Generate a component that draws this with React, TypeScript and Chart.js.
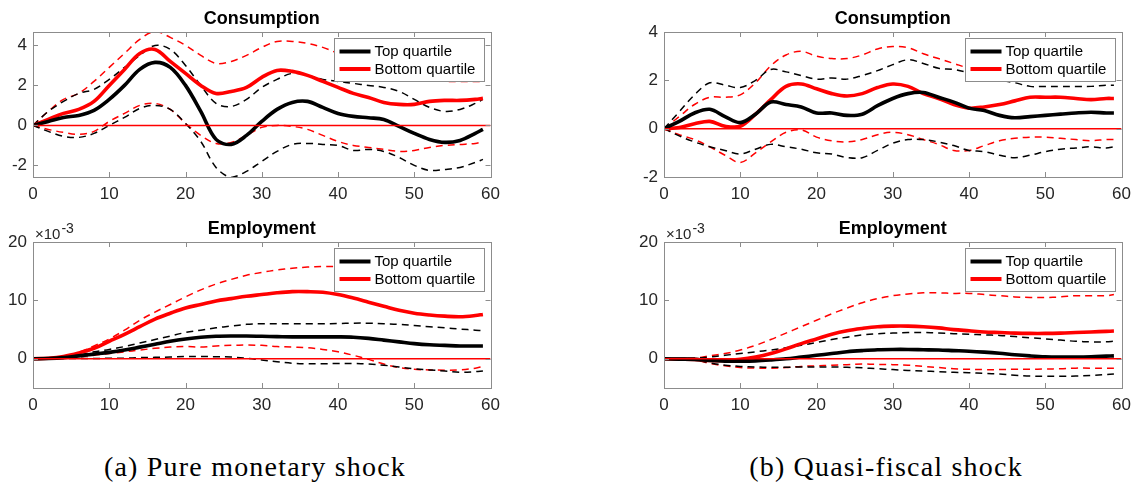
import React, { useEffect, useRef } from "react";
import { Chart, registerables } from "chart.js";

Chart.register(...registerables);

// ---------- data ----------
const HORIZON = [0, 2, 4, 6, 8, 10, 12, 14, 16, 18, 20, 22, 24, 26, 28, 30, 32, 34, 36, 38, 40, 42, 44, 46, 48, 50, 52, 54, 56, 58, 59];
const X_TICKS_STEP = 10;
const SERIES_LABELS = ["Top quartile", "Bottom quartile"];
const CAPTIONS = ["(a) Pure monetary shock", "(b) Quasi-fiscal shock"];
const TITLES = ["Consumption", "Employment"];
const EXPONENT_LABEL = ["×10", "-3"];

// (a) Pure monetary shock — Consumption
const monConsTop = [0, 0.2, 0.4, 0.5, 0.75, 1.3, 2.0, 2.8, 3.15, 2.9, 2.0, 0.7, -0.7, -0.95, -0.5, 0.2, 0.8, 1.15, 1.2, 0.9, 0.6, 0.45, 0.38, 0.3, -0.05, -0.4, -0.7, -0.85, -0.75, -0.4, -0.2];
const monConsBot = [0, 0.3, 0.6, 0.8, 1.2, 2.0, 2.8, 3.6, 3.8, 3.2, 2.6, 2.0, 1.6, 1.7, 1.9, 2.4, 2.75, 2.7, 2.5, 2.2, 1.9, 1.6, 1.4, 1.15, 1.05, 1.05, 1.2, 1.25, 1.25, 1.3, 1.35];
const monConsTopHi = [0, 0.7, 1.2, 1.6, 1.8, 2.3, 2.9, 3.5, 4.0, 3.8, 3.0, 2.0, 1.1, 0.95, 1.3, 1.9, 2.3, 2.6, 2.5, 2.3, 2.2, 2.1, 2.0, 1.9, 1.7, 1.3, 0.9, 0.7, 0.8, 1.1, 1.3];
const monConsBotHi = [0, 0.7, 1.3, 1.6, 2.2, 2.9, 3.6, 4.3, 4.7, 4.4, 4.0, 3.5, 3.1, 3.2, 3.5, 3.9, 4.2, 4.2, 4.1, 3.9, 3.6, 3.3, 3.0, 2.8, 2.6, 2.4, 2.3, 2.2, 2.2, 2.2, 2.2];
const monConsTopLo = [0, -0.3, -0.55, -0.6, -0.4, 0.0, 0.4, 0.85, 1.0, 0.8, 0.1, -0.8, -2.1, -2.6, -2.3, -1.8, -1.3, -0.95, -0.9, -0.95, -1.0, -1.25, -1.2, -1.3, -1.6, -2.0, -2.25, -2.2, -2.1, -1.85, -1.7];
const monConsBotLo = [0, -0.2, -0.35, -0.45, -0.3, 0.2, 0.6, 1.0, 1.1, 0.8, 0.1, -0.5, -0.9, -0.85, -0.5, -0.1, 0.0, -0.05, -0.2, -0.5, -0.8, -1.0, -1.1, -1.2, -1.3, -1.25, -1.1, -1.0, -0.95, -0.9, -0.8];

// (b) Quasi-fiscal shock — Consumption
const qfConsTop = [0, 0.3, 0.65, 0.8, 0.5, 0.25, 0.6, 1.1, 1.0, 0.9, 0.65, 0.65, 0.55, 0.6, 0.95, 1.25, 1.45, 1.5, 1.3, 1.1, 0.85, 0.75, 0.55, 0.45, 0.5, 0.55, 0.6, 0.65, 0.68, 0.65, 0.65];
const qfConsBot = [0, 0.05, 0.2, 0.3, 0.1, 0.1, 0.6, 1.2, 1.75, 1.85, 1.65, 1.45, 1.35, 1.45, 1.7, 1.85, 1.75, 1.45, 1.25, 1.0, 0.85, 0.9, 1.0, 1.15, 1.3, 1.3, 1.3, 1.25, 1.2, 1.25, 1.25];
const qfConsTopHi = [0, 0.7, 1.4, 1.9, 1.8, 1.7, 2.0, 2.45, 2.35, 2.2, 2.05, 2.1, 2.05, 2.2, 2.4, 2.65, 2.85, 2.7, 2.5, 2.45, 2.3, 2.1, 2.0, 1.9, 1.75, 1.75, 1.75, 1.75, 1.75, 1.8, 1.8];
const qfConsBotHi = [0, 0.5, 1.0, 1.3, 1.3, 1.4, 1.9, 2.6, 3.05, 3.2, 3.0, 2.9, 2.9, 3.05, 3.3, 3.4, 3.35, 3.1, 2.9, 2.7, 2.5, 2.4, 2.3, 2.2, 2.1, 2.1, 2.1, 2.1, 2.1, 2.1, 2.1];
const qfConsTopLo = [0, -0.3, -0.55, -0.75, -0.9, -1.05, -0.85, -0.65, -0.75, -0.85, -1.0, -1.05, -1.2, -1.2, -0.9, -0.6, -0.45, -0.45, -0.55, -0.7, -0.9, -0.95, -1.1, -1.2, -1.1, -0.95, -0.85, -0.8, -0.75, -0.8, -0.75];
const qfConsBotLo = [0, -0.25, -0.45, -0.75, -1.1, -1.4, -1.0, -0.55, -0.15, -0.05, -0.35, -0.5, -0.55, -0.45, -0.25, -0.15, -0.25, -0.45, -0.65, -0.9, -0.9, -0.7, -0.5, -0.4, -0.35, -0.35, -0.4, -0.45, -0.5, -0.45, -0.45];

// (a) Pure monetary shock — Employment (units of 10^-3)
const monEmpTop = [0, 0.05, 0.2, 0.5, 0.8, 1.1, 1.5, 2.0, 2.5, 3.0, 3.4, 3.7, 3.85, 3.9, 3.9, 3.85, 3.8, 3.75, 3.75, 3.75, 3.75, 3.7, 3.5, 3.2, 2.9, 2.6, 2.4, 2.3, 2.2, 2.2, 2.2];
const monEmpBot = [0, 0.1, 0.4, 1.0, 1.8, 3.0, 4.2, 5.5, 6.8, 7.8, 8.7, 9.3, 9.9, 10.3, 10.7, 11.0, 11.3, 11.5, 11.5, 11.4, 11.0, 10.4, 9.7, 9.0, 8.3, 7.8, 7.5, 7.3, 7.2, 7.4, 7.6];
const monEmpTopHi = [0, 0.0, 0.2, 0.6, 1.2, 1.6, 2.1, 2.7, 3.3, 3.9, 4.5, 4.9, 5.3, 5.6, 5.9, 6.0, 6.0, 6.0, 6.0, 6.0, 6.05, 6.1, 6.1, 6.0, 5.9, 5.7, 5.5, 5.3, 5.1, 4.9, 4.8];
const monEmpBotHi = [0, 0.1, 0.4, 1.1, 2.2, 3.4, 4.9, 6.6, 8.0, 9.3, 10.6, 11.8, 12.8, 13.6, 14.3, 14.8, 15.2, 15.5, 15.7, 15.8, 15.8, 15.7, 15.5, 15.2, 14.8, 14.4, 14.0, 13.8, 13.7, 13.8, 13.9];
const monEmpTopLo = [0, 0.0, 0.05, 0.05, 0.05, 0.1, 0.1, 0.2, 0.25, 0.3, 0.4, 0.4, 0.35, 0.3, 0.1, -0.2, -0.5, -0.75, -0.85, -0.85, -0.8, -0.8, -0.9, -1.1, -1.4, -1.7, -1.9, -2.1, -2.3, -2.2, -2.1];
const monEmpBotLo = [0, 0.0, 0.15, 0.3, 0.6, 0.9, 1.2, 1.5, 1.8, 2.0, 2.1, 2.0, 2.2, 2.3, 2.35, 2.3, 2.1, 2.0, 1.9, 1.6, 1.2, 0.6, -0.1, -0.9, -1.5, -1.8, -1.9, -1.95, -1.9, -1.6, -1.3];

// (b) Quasi-fiscal shock — Employment (units of 10^-3)
const qfEmpTop = [0, -0.05, -0.1, -0.3, -0.4, -0.4, -0.35, -0.2, 0.0, 0.3, 0.6, 0.9, 1.2, 1.4, 1.55, 1.6, 1.6, 1.55, 1.5, 1.4, 1.3, 1.15, 0.95, 0.7, 0.5, 0.35, 0.3, 0.3, 0.35, 0.45, 0.5];
const qfEmpBot = [0, -0.05, -0.1, -0.3, -0.3, -0.1, 0.3, 0.9, 1.7, 2.6, 3.4, 4.2, 4.8, 5.2, 5.5, 5.6, 5.6, 5.5, 5.3, 5.0, 4.8, 4.6, 4.5, 4.4, 4.35, 4.35, 4.4, 4.5, 4.6, 4.7, 4.75];
const qfEmpTopHi = [0, 0.0, 0.1, 0.3, 0.6, 0.9, 1.2, 1.5, 1.9, 2.3, 2.8, 3.3, 3.7, 4.1, 4.3, 4.4, 4.5, 4.5, 4.4, 4.3, 4.2, 4.1, 4.0, 3.8, 3.6, 3.4, 3.2, 3.0, 2.9, 2.9, 3.0];
const qfEmpBotHi = [0, 0.0, 0.1, 0.5, 0.9, 1.5, 2.3, 3.3, 4.4, 5.5, 6.6, 7.7, 8.7, 9.6, 10.3, 10.8, 11.1, 11.3, 11.3, 11.2, 11.2, 11.0, 10.8, 10.6, 10.5, 10.5, 10.6, 10.8, 10.8, 10.8, 11.0];
const qfEmpTopLo = [0, -0.05, -0.2, -0.7, -1.1, -1.3, -1.4, -1.45, -1.45, -1.4, -1.4, -1.4, -1.45, -1.55, -1.7, -1.85, -2.0, -2.1, -2.2, -2.3, -2.4, -2.5, -2.6, -2.8, -2.95, -3.0, -3.0, -2.95, -2.85, -2.7, -2.6];
const qfEmpBotLo = [0, -0.05, -0.2, -0.8, -1.2, -1.5, -1.6, -1.6, -1.5, -1.3, -1.2, -1.1, -1.0, -0.9, -0.95, -1.0, -1.1, -1.3, -1.5, -1.7, -1.8, -1.85, -1.85, -1.8, -1.8, -1.75, -1.7, -1.6, -1.6, -1.6, -1.6];

// y-axis ranges
const CONS_RANGE_A = [-2.58, 4.67];
const CONS_RANGE_B = [-2, 4];
const EMP_RANGE = [-5, 20];

// ---------- styling ----------
const FONT = '"Liberation Sans", Arial, Helvetica, sans-serif';
const AXIS_GRAY = "#8c8c8c";
const TEXT_GRAY = "#262626";

type PanelDef = {
  left: number;
  top: number;
  plotH: number;
  title: string;
  range: number[];
  step: number;
  exponent: boolean;
  top_: number[];
  bot: number[];
  topHi: number[];
  topLo: number[];
  botHi: number[];
  botLo: number[];
};

const PLOT_W = 460;
const PAD_L = 34;
const PAD_T = 32;
const PAD_R = 14;
const PAD_B = 30;

const PANELS: PanelDef[] = [
  { left: 33, top: 32, plotH: 145, title: TITLES[0], range: CONS_RANGE_A, step: 2, exponent: false,
    top_: monConsTop, bot: monConsBot, topHi: monConsTopHi, topLo: monConsTopLo, botHi: monConsBotHi, botLo: monConsBotLo },
  { left: 664, top: 32, plotH: 145, title: TITLES[0], range: CONS_RANGE_B, step: 2, exponent: false,
    top_: qfConsTop, bot: qfConsBot, topHi: qfConsTopHi, topLo: qfConsTopLo, botHi: qfConsBotHi, botLo: qfConsBotLo },
  { left: 33, top: 242, plotH: 146, title: TITLES[1], range: EMP_RANGE, step: 10, exponent: true,
    top_: monEmpTop, bot: monEmpBot, topHi: monEmpTopHi, topLo: monEmpTopLo, botHi: monEmpBotHi, botLo: monEmpBotLo },
  { left: 664, top: 242, plotH: 146, title: TITLES[1], range: EMP_RANGE, step: 10, exponent: true,
    top_: qfEmpTop, bot: qfEmpBot, topHi: qfEmpTopHi, topLo: qfEmpTopLo, botHi: qfEmpBotHi, botLo: qfEmpBotLo },
];

const toXY = (ys: number[]) => HORIZON.map((x, i) => ({ x, y: ys[i] }));

const framePlugin = {
  id: "matlabFrame",
  afterDraw(chart: any, _args: any, opts: any) {
    const { ctx, chartArea: a } = chart;
    ctx.save();
    // inward ticks
    ctx.strokeStyle = AXIS_GRAY;
    ctx.lineWidth = 1;
    const tl = 5;
    const xs = chart.scales.x;
    const ys = chart.scales.y;
    ctx.beginPath();
    xs.ticks.forEach((t: any) => {
      const px = Math.round(xs.getPixelForValue(t.value)) + 0.5;
      ctx.moveTo(px, a.bottom);
      ctx.lineTo(px, a.bottom - tl);
      ctx.moveTo(px, a.top);
      ctx.lineTo(px, a.top + tl);
    });
    ys.ticks.forEach((t: any) => {
      const py = Math.round(ys.getPixelForValue(t.value)) + 0.5;
      ctx.moveTo(a.left, py);
      ctx.lineTo(a.left + tl, py);
      ctx.moveTo(a.right, py);
      ctx.lineTo(a.right - tl, py);
    });
    ctx.stroke();

    // legend
    const lw = 150;
    const lh = 43;
    const lx = Math.round(a.right - 7 - lw) + 0.5;
    const ly = Math.round(a.top + 6) + 0.5;
    ctx.fillStyle = "#ffffff";
    ctx.fillRect(lx, ly, lw, lh);
    ctx.strokeStyle = AXIS_GRAY;
    ctx.strokeRect(lx, ly, lw, lh);
    const entries = chart.data.datasets.filter((d: any) => d.inLegend);
    ctx.font = `15px ${FONT}`;
    ctx.textBaseline = "middle";
    ctx.textAlign = "left";
    entries.forEach((d: any, i: number) => {
      const cy = ly + 13 + i * 17.5;
      ctx.strokeStyle = d.borderColor;
      ctx.lineWidth = 4;
      ctx.beginPath();
      ctx.moveTo(lx + 5, cy);
      ctx.lineTo(lx + 36, cy);
      ctx.stroke();
      ctx.fillStyle = "#000";
      ctx.fillText(d.label, lx + 40, cy + 0.5);
    });

    // box
    ctx.strokeStyle = AXIS_GRAY;
    ctx.lineWidth = 1;
    ctx.strokeRect(Math.round(a.left) + 0.5, Math.round(a.top) + 0.5, Math.round(a.right - a.left), Math.round(a.bottom - a.top));

    // title
    ctx.fillStyle = "#000";
    ctx.font = `bold 18px ${FONT}`;
    ctx.textAlign = "center";
    ctx.textBaseline = "middle";
    ctx.fillText(opts.title, (a.left + a.right) / 2, a.top - 13);

    // exponent
    if (opts.exponent) {
      ctx.fillStyle = TEXT_GRAY;
      ctx.textAlign = "left";
      ctx.textBaseline = "alphabetic";
      ctx.font = `15px ${FONT}`;
      ctx.fillText(EXPONENT_LABEL[0], a.left + 2, a.top - 3);
      const w = ctx.measureText(EXPONENT_LABEL[0]).width;
      ctx.font = `14px ${FONT}`;
      ctx.fillText(EXPONENT_LABEL[1], a.left + 2 + w + 1, a.top - 9);
    }
    ctx.restore();
  },
};

function Panel({ def }: { def: PanelDef }) {
  const ref = useRef<HTMLCanvasElement>(null);
  const width = PAD_L + PLOT_W + PAD_R;
  const height = PAD_T + def.plotH + PAD_B;
  useEffect(() => {
    const solid = (label: string, ys: number[], color: string) => ({
      label, data: toXY(ys), borderColor: color, borderWidth: 3.6, pointRadius: 0, tension: 0.35, fill: false, inLegend: true,
    });
    const dashed = (label: string, ys: number[], color: string) => ({
      label, data: toXY(ys), borderColor: color, borderWidth: 1.5, borderDash: [7, 5], pointRadius: 0, tension: 0.35, fill: false,
    });
    const chart = new Chart(ref.current as HTMLCanvasElement, {
      type: "line",
      data: {
        datasets: [
          { label: "zero", data: [{ x: 0, y: 0 }, { x: 60, y: 0 }], borderColor: "#ff0000", borderWidth: 1.5, pointRadius: 0, order: 0 } as any,
          solid(SERIES_LABELS[0], def.top_, "#000000"),
          solid(SERIES_LABELS[1], def.bot, "#ff0000"),
          dashed(SERIES_LABELS[0] + " upper", def.topHi, "#000000"),
          dashed(SERIES_LABELS[0] + " lower", def.topLo, "#000000"),
          dashed(SERIES_LABELS[1] + " upper", def.botHi, "#ff0000"),
          dashed(SERIES_LABELS[1] + " lower", def.botLo, "#ff0000"),
        ],
      },
      options: {
        responsive: false,
        animation: false,
        events: [],
        layout: { padding: { left: 0, top: PAD_T, right: PAD_R, bottom: 0 } },
        plugins: {
          legend: { display: false },
          tooltip: { enabled: false },
          matlabFrame: { title: def.title, exponent: def.exponent },
        } as any,
        scales: {
          x: {
            type: "linear",
            min: 0,
            max: 60,
            grid: { display: false, drawTicks: false },
            border: { display: false },
            ticks: { stepSize: X_TICKS_STEP, color: TEXT_GRAY, font: { family: FONT, size: 17 }, padding: 7, maxRotation: 0 },
            afterFit: (s: any) => { s.height = PAD_B; },
          },
          y: {
            min: def.range[0],
            max: def.range[1],
            grid: { display: false, drawTicks: false },
            border: { display: false },
            ticks: { stepSize: def.step, includeBounds: false, color: TEXT_GRAY, font: { family: FONT, size: 17 }, padding: 6 },
            afterFit: (s: any) => { s.width = PAD_L; },
          },
        },
      },
      plugins: [framePlugin],
    } as any);
    return () => chart.destroy();
  }, []);
  return (
    <canvas
      ref={ref}
      width={width}
      height={height}
      style={{ position: "absolute", left: def.left - PAD_L, top: def.top - PAD_T, width, height }}
    />
  );
}

export default function App() {
  const capStyle: React.CSSProperties = {
    position: "absolute",
    top: 451,
    height: 32,
    lineHeight: "32px",
    fontFamily: '"Liberation Serif", "Times New Roman", serif',
    fontSize: 28,
    letterSpacing: 1.2,
    color: "#000",
    whiteSpace: "nowrap",
    transform: "translateX(-50%)",
  };
  return (
    <div style={{ position: "absolute", left: 0, top: 0, width: 1134, height: 483, background: "#fff", overflow: "hidden" }}>
      {PANELS.map((p, i) => (
        <Panel key={i} def={p} />
      ))}
      <div style={{ ...capStyle, left: 255 }}>{CAPTIONS[0]}</div>
      <div style={{ ...capStyle, left: 886 }}>{CAPTIONS[1]}</div>
    </div>
  );
}
